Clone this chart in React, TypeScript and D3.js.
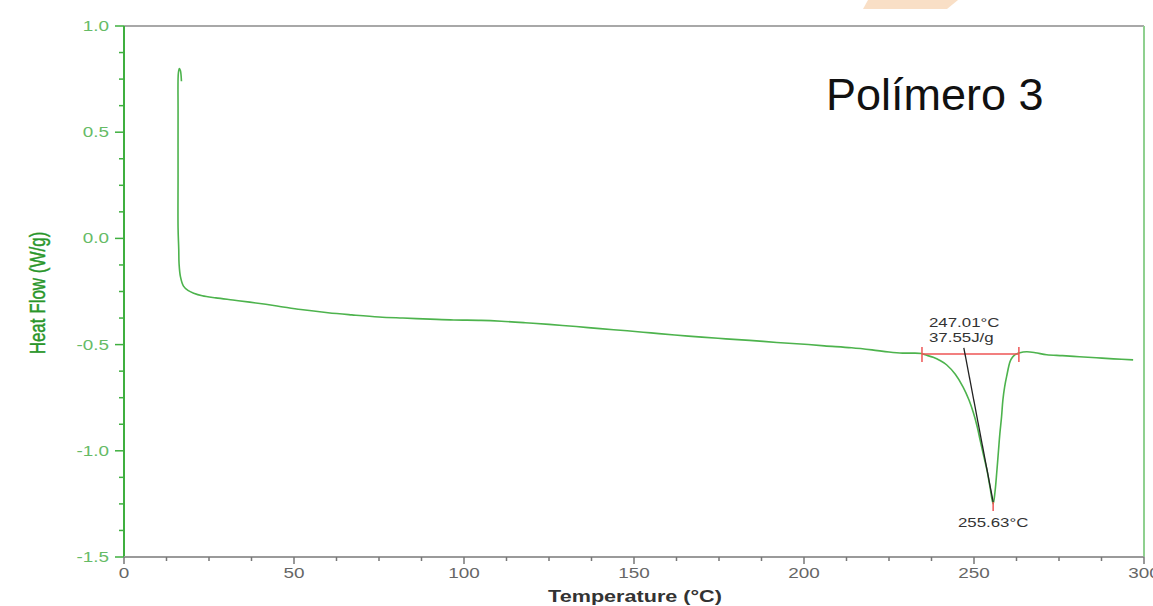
import React from "react";
import * as d3 from "d3";

// ---- data ----
const temperatures = [
  16.9, 16.6, 16.3, 16.0, 15.9, 15.9, 15.9, 16.1, 16.2, 16.6, 17.5, 18.8, 20.5, 23, 27, 32, 37, 45, 52, 60, 67, 75, 82, 90, 97, 105,
  111, 118, 125, 133, 140, 148, 155, 162, 170, 177, 184, 192, 199, 206, 214, 220, 225, 229, 232, 234.5, 235.6, 238, 240, 242,
  244.5, 246.8, 248.5, 249.8, 251, 251.8, 252.8, 253.8, 254.7, 255.63, 256.2, 256.7, 257.2, 257.6, 258.1, 258.5, 259.0, 259.6,
  260.6, 261.3, 262, 263.5, 265.5, 268, 271.4, 276, 281, 286, 291, 296.8,
];
const heatFlow = [
  0.74, 0.79, 0.8, 0.78, 0.6, 0.3, 0.05, -0.05, -0.12, -0.18, -0.225, -0.245, -0.258, -0.27, -0.28, -0.29, -0.3, -0.318, -0.335,
  -0.35, -0.36, -0.37, -0.375, -0.38, -0.384, -0.386, -0.39, -0.397, -0.405, -0.415, -0.425, -0.435, -0.445, -0.455, -0.465,
  -0.473, -0.48, -0.49, -0.497, -0.506, -0.515, -0.525, -0.535, -0.54, -0.54, -0.542, -0.548, -0.56, -0.575, -0.596, -0.64, -0.7,
  -0.76, -0.82, -0.89, -0.95, -1.02, -1.09, -1.17, -1.25, -1.19, -1.1, -1.0, -0.92, -0.84, -0.76, -0.7, -0.65, -0.58, -0.56,
  -0.548, -0.538, -0.534, -0.538, -0.548, -0.552, -0.557, -0.562, -0.567, -0.572,
];
const xMajorTicks = [0, 50, 100, 150, 200, 250, 300];
const yMajorTicks = [1.0, 0.5, 0.0, -0.5, -1.0, -1.5];
const title = "Polímero 3";
const xLabel = "Temperature (°C)";
const yLabel = "Heat Flow (W/g)";
// integration annotation
const integrationRange = [234.7, 263.2];
const integrationBaseline = -0.544;
const onsetTemp = 247.01;
const enthalpy = "37.55J/g";
const peakTemp = 255.63;
const peakValue = -1.25;

const W = 1153;
const H = 606;
const L = 124,
  R = 1144,
  T = 26,
  B = 557;
const SX = 1.35; // horizontal stretch of original image text

export default function App() {
  const x = d3.scaleLinear().domain([0, 300]).range([L, R]);
  const y = d3.scaleLinear().domain([-1.5, 1.0]).range([B, T]);
  const xMinor = d3.range(0, 300.001, 12.5).filter((v) => !xMajorTicks.includes(v));
  const yMinor = d3.range(-1.5, 1.0001, 0.125).filter((v) => !yMajorTicks.some((m) => Math.abs(m - v) < 1e-6));
  const pts: [number, number][] = temperatures.map((t, i) => [t, heatFlow[i]]);
  const line = d3
    .line<[number, number]>()
    .x((d) => x(d[0]))
    .y((d) => y(d[1]))
    .curve(d3.curveCatmullRom.alpha(0.5));

  const green = "#3faf3f";
  const font = "'Liberation Sans', Arial, sans-serif";
  const stretchText = (tx: number, ty: number, txt: string, props: any) => (
    <text transform={`translate(${tx},${ty}) scale(${SX},1)`} {...props}>
      {txt}
    </text>
  );

  return (
    <svg width={W} height={H} style={{ position: "absolute", left: 0, top: 0, background: "#fff" }} fontFamily={font}>
      <rect x={0} y={0} width={W} height={H} fill="#fff" />
      <polygon points="868,0 958,0 947,9 863,9" fill="#f9dfc6" />
      {/* frame */}
      <line x1={L} x2={R} y1={T} y2={T} stroke="#a8a8a8" strokeWidth={2} />
      <line x1={R} x2={R} y1={T} y2={B} stroke="#8fd08f" strokeWidth={2} />
      {/* y axis */}
      <line x1={L} x2={L} y1={T} y2={B} stroke={green} strokeWidth={2} />
      {yMajorTicks.map((v) => (
        <g key={"ym" + v}>
          <line x1={L - 9} x2={L} y1={y(v)} y2={y(v)} stroke={green} strokeWidth={1.5} />
          {stretchText(L - 15, y(v) + 5, v.toFixed(1), { fill: "#66bb66", fontSize: 14, textAnchor: "end" })}
        </g>
      ))}
      {yMinor.map((v) => (
        <line key={"yn" + v} x1={L - 5} x2={L} y1={y(v)} y2={y(v)} stroke={green} strokeWidth={1.5} />
      ))}
      {/* x axis */}
      <line x1={L} x2={R} y1={B} y2={B} stroke="#9a9a9a" strokeWidth={2} />
      {xMajorTicks.map((v) => (
        <g key={"xm" + v}>
          <line x1={x(v)} x2={x(v)} y1={B} y2={B + 7} stroke="#777" strokeWidth={1.5} />
          {stretchText(x(v), B + 21, String(v), { fill: "#666", fontSize: 14, textAnchor: "middle" })}
        </g>
      ))}
      {xMinor.map((v) => (
        <line key={"xn" + v} x1={x(v)} x2={x(v)} y1={B} y2={B + 4} stroke="#777" strokeWidth={1.5} />
      ))}
      {/* axis labels */}
      {stretchText(635, 602, xLabel, { fill: "#333", fontSize: 16, fontWeight: "bold", textAnchor: "middle" })}
      <text
        transform={`translate(45,293) scale(${SX},1) rotate(-90)`}
        fill="#2a962a"
        stroke="#2a962a"
        strokeWidth={0.35}
        fontSize={17}
        textAnchor="middle"
      >
        {yLabel}
      </text>
      {/* title */}
      <text x={826} y={110} fontSize={45} fill="#111">
        {title}
      </text>
      {/* data curve */}
      <path d={line(pts) || ""} fill="none" stroke="#4db34d" strokeWidth={1.6} />
      {/* integration baseline */}
      <line
        x1={x(integrationRange[0])}
        x2={x(integrationRange[1])}
        y1={y(integrationBaseline)}
        y2={y(integrationBaseline)}
        stroke="#ee5555"
        strokeWidth={1.5}
      />
      {integrationRange.map((t) => (
        <line
          key={"ir" + t}
          x1={x(t)}
          x2={x(t)}
          y1={y(integrationBaseline) - 7}
          y2={y(integrationBaseline) + 8}
          stroke="#ee5555"
          strokeWidth={1.5}
        />
      ))}
      <line
        x1={x(onsetTemp)}
        y1={y(integrationBaseline) - 6}
        x2={x(peakTemp)}
        y2={y(peakValue) - 2}
        stroke="#222"
        strokeWidth={1.3}
      />
      <line x1={x(peakTemp)} x2={x(peakTemp)} y1={y(peakValue) - 2} y2={y(peakValue) + 7} stroke="#ee5555" strokeWidth={1.5} />
      {stretchText(929, 327, `${onsetTemp.toFixed(2)}°C`, { fill: "#333", fontSize: 12.5 })}
      {stretchText(929, 342, enthalpy, { fill: "#333", fontSize: 12.5 })}
      {stretchText(x(peakTemp), 527, `${peakTemp.toFixed(2)}°C`, { fill: "#333", fontSize: 12.5, textAnchor: "middle" })}
    </svg>
  );
}
